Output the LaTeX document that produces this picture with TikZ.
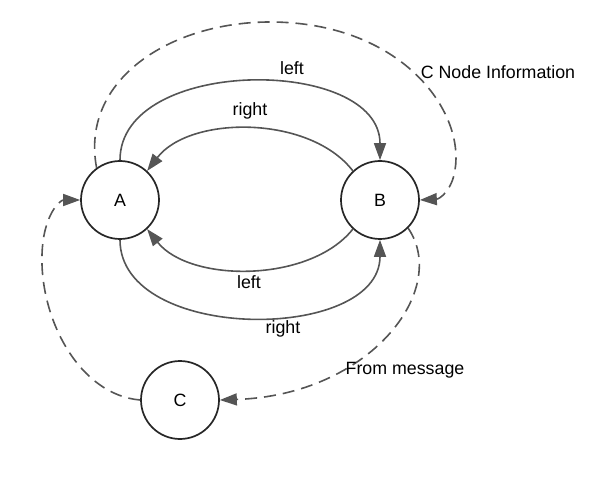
\documentclass[tikz,border=0pt]{standalone}
\usepackage{fontspec}
\setmainfont{Liberation Sans}
\usetikzlibrary{arrows.meta}
\definecolor{edgec}{HTML}{555555}
\definecolor{nodec}{HTML}{262626}
\tikzset{
  statenode/.style={circle, draw=nodec, line width=1.7pt, minimum size=78pt, inner sep=0pt, fill=white},
  trans/.style={draw=edgec, line width=1.6pt, -{Triangle[length=17pt,width=12pt]}},
  dtrans/.style={trans, dash pattern=on 12pt off 7pt},
  lbl/.style={anchor=base, inner sep=0pt, text=black}
}
\begin{document}
\begin{tikzpicture}[x=1pt, y=-1pt, font=\fontsize{17.8}{20}\selectfont]
\useasboundingbox (0,0) rectangle (616,481);
\node[statenode] (A) at (120,200) {A};
\node[statenode] (B) at (380,200) {B};
\node[statenode] (C) at (180,400) {C};
% solid transitions
\draw[trans] (A.north) .. controls (120,56) and (380,56) .. (B.north);
\draw[trans] (B.133) .. controls (310,115) and (190,115) .. (A.47);
\draw[trans] (B.-133) .. controls (310,283) and (190,283) .. (A.-47);
\draw[trans] (A.south) .. controls (120,343) and (380,343) .. (B.south);
% dashed transitions
\coordinate (top) at (270,22);
\coordinate (rgt) at (455,170);
\draw[dtrans] (A.126) .. controls (80,80) and (170,22) .. (top)
  .. controls (400,22) and (465,110) .. (rgt)
  .. controls (452,190) and (440,199) .. (B.east);
\draw[dtrans] (B.-45) .. controls (450,290) and (370,395) .. (C.east);
\coordinate (lft) at (42,255);
\draw[dtrans] (C.west) .. controls (80,395) and (40,320) .. (lft)
  .. controls (43,215) and (60,200) .. (A.west);
% labels
\node[lbl] (l1) at (292,75) {left};
\node[lbl] (l2) at (250,116) {right};
\node[lbl] (l3) at (249,288) {left};
\node[lbl] (l4) at (283,333) {right};
\node[lbl] (l5) at (498,79) {C Node Information};
\node[lbl] (l6) at (405,374) {From message};
\end{tikzpicture}
\end{document}
